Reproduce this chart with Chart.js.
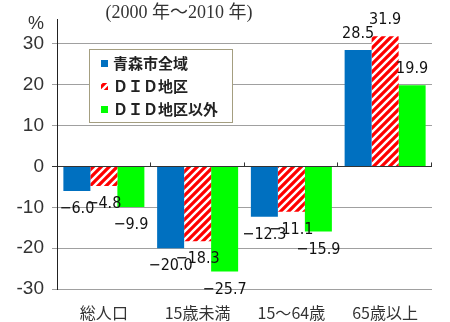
<!DOCTYPE html>
<html>
<head>
<meta charset="utf-8">
<script src="https://cdn.jsdelivr.net/npm/chart.js@4"></script>
<style>
html, body { margin: 0; padding: 0; background: #fff; }
#wrap { width: 450px; height: 322px; }
</style>
</head>
<body>
<div id="wrap"><canvas id="c" width="450" height="322"></canvas></div>
<script>
// categories and series (% change, 2000 -> 2010)
var categories = ['総人口', '15歳未満', '15～64歳', '65歳以上'];
var seriesNames = ['青森市全域', 'ＤＩＤ地区', 'ＤＩＤ地区以外'];
var cityAll = [-6.0, -20.0, -12.3, 28.5];
var didArea = [-4.8, -18.3, -11.1, 31.9];
var nonDid = [-9.9, -25.7, -15.9, 19.9];
var yTicks = [-30, -20, -10, 0, 10, 20, 30];

// red / white diagonal hatch
function hatch() {
	var c = document.createElement('canvas');
	c.width = 8; c.height = 8;
	var g = c.getContext('2d');
	g.fillStyle = '#ff0000';
	g.fillRect(0, 0, 8, 8);
	g.strokeStyle = '#ffffff';
	g.lineWidth = 2.4;
	g.beginPath();
	g.moveTo(-1, 9); g.lineTo(9, -1);
	g.moveTo(-5, 5); g.lineTo(5, -5);
	g.moveTo(3, 13); g.lineTo(13, 3);
	g.stroke();
	return g.createPattern(c, 'repeat');
}
var redHatch = hatch();
var colors = ['#0070c0', redHatch, '#00ff00'];

var labelFont = '16px "Liberation Sans Narrow", "DejaVu Sans Condensed", sans-serif';

var extras = {
	id: 'extras',
	afterDatasetsDraw: function(chart) {
		var ctx = chart.ctx;
		// value labels
		ctx.save();
		ctx.font = labelFont;
		ctx.fillStyle = '#111';
		ctx.textAlign = 'center';
		ctx.textBaseline = 'middle';
		chart.data.datasets.forEach(function(ds, i) {
			chart.getDatasetMeta(i).data.forEach(function(bar, j) {
				var v = ds.data[j];
				var y = v < 0 ? bar.y + 18 : bar.y - 16;
				ctx.fillText(v.toFixed(1).replace('-', '−'), bar.x, y);
			});
		});
		ctx.restore();
	},
	afterDraw: function(chart) {
		var ctx = chart.ctx;
		var xs = chart.scales.x, ys = chart.scales.y;
		var y0 = ys.getPixelForValue(0);
		ctx.save();
		// zero line ticks at category boundaries
		ctx.strokeStyle = '#333';
		ctx.lineWidth = 1;
		ctx.beginPath();
		for (var i = 1; i <= categories.length; i++) {
			var bx = Math.round(xs.left + (xs.right - xs.left) * i / categories.length) - 0.5;
			ctx.moveTo(bx, y0);
			ctx.lineTo(bx, y0 - 4);
		}
		ctx.stroke();

		// title and unit
		ctx.fillStyle = '#333';
		ctx.textAlign = 'center';
		ctx.textBaseline = 'middle';
		ctx.font = '18px "Liberation Serif", "Noto Sans CJK JP", serif';
		ctx.fillText('(2000 年～2010 年)', 179, 13);
		ctx.font = '18px "Liberation Sans", sans-serif';
		ctx.fillText('%', 36, 24);

		// legend box
		ctx.fillStyle = '#fff';
		ctx.fillRect(89, 49, 143, 73);
		ctx.strokeStyle = '#a49e80';
		ctx.strokeRect(89.5, 49.5, 143, 73);
		ctx.textAlign = 'left';
		ctx.font = 'bold 15px "Noto Sans CJK JP", sans-serif';
		for (var k = 0; k < seriesNames.length; k++) {
			var ry = 63 + k * 23;
			ctx.fillStyle = colors[k];
			ctx.fillRect(101, ry - 3, 7, 7);
			ctx.fillStyle = '#222';
			ctx.fillText(seriesNames[k], 113, ry);
		}
		ctx.restore();
	}
};

var ctx = document.getElementById('c').getContext('2d');
var chart = new Chart(ctx, {
	type: 'bar',
	data: {
		labels: categories,
		datasets: [
			{ label: seriesNames[0], data: cityAll, backgroundColor: colors[0] },
			{ label: seriesNames[1], data: didArea, backgroundColor: colors[1] },
			{ label: seriesNames[2], data: nonDid, backgroundColor: colors[2] }
		]
	},
	options: {
		responsive: false,
		animation: false,
		layout: { padding: { top: 17, right: 18, left: 0, bottom: 0 } },
		datasets: { bar: { categoryPercentage: 0.864, barPercentage: 1.0, borderWidth: 0 } },
		plugins: { legend: { display: false }, tooltip: { enabled: false }, title: { display: false } },
		scales: {
			x: {
				grid: { display: false },
				border: { display: false },
				ticks: {
					color: '#333',
					padding: 6,
					font: { size: 16, family: '"Noto Sans CJK JP", sans-serif' }
				},
				afterFit: function(s) { s.height = 33; }
			},
			y: {
				min: -30,
				max: 36,
				afterBuildTicks: function(s) {
					s.ticks = yTicks.map(function(v) { return { value: v }; });
				},
				grid: {
					color: function(c) { return c.tick && c.tick.value === 0 ? '#333' : '#a0a0a0'; },
					tickLength: 5
				},
				border: { display: true, color: '#222', width: 1 },
				ticks: {
					color: '#333',
					padding: 8,
					font: { size: 19, family: '"Liberation Sans", Arial, sans-serif' }
				},
				afterFit: function(s) { s.width = 57; }
			}
		}
	},
	plugins: [extras]
});
</script>
</body>
</html>
